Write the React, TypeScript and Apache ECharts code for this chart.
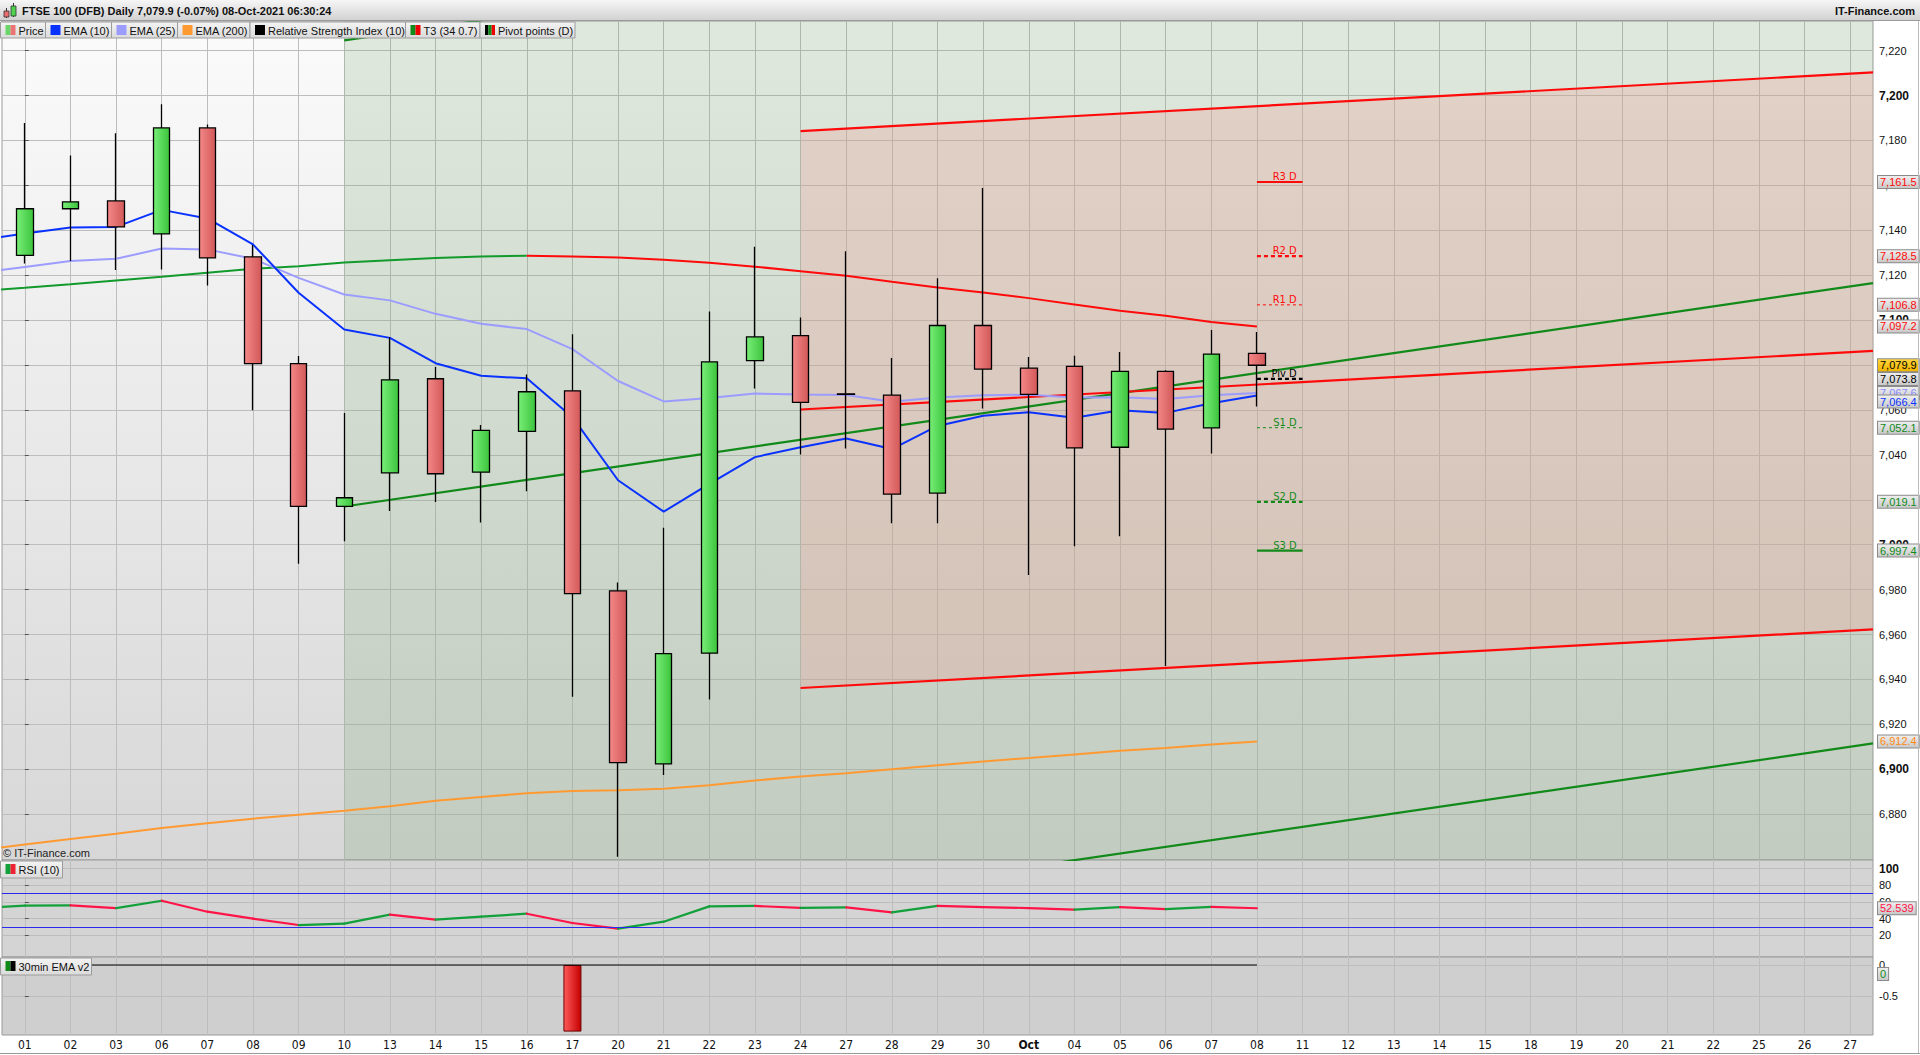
import React, { useEffect, useRef } from 'react';
import * as echarts from 'echarts';

const FONT = '"Liberation Sans", Arial, Helvetica, sans-serif';
const NARROW = '"Liberation Sans Narrow", "DejaVu Sans Condensed", "Liberation Sans", Arial, sans-serif';

// ---------------- data ----------------
const title = 'FTSE 100 (DFB) Daily 7,079.9 (-0.07%) 08-Oct-2021 06:30:24';
const site = 'IT-Finance.com';

const categories = ['01', '02', '03', '06', '07', '08', '09', '10', '13', '14', '15', '16', '17', '20', '21', '22', '23', '24', '27', '28', '29', '30', 'Oct', '04', '05', '06', '07', '08', '11', '12', '13', '14', '15', '18', '19', '20', '21', '22', '25', '26', '27'];

const candleOpen = [7128.8, 7149.6, 7153.1, 7138.4, 7185.6, 7128.2, 7080.6, 7017.1, 7032.0, 7073.9, 7032.3, 7050.5, 7068.5, 6979.4, 6902.4, 6951.7, 7082.0, 7093.1, 7067.2, 7066.6, 7023.0, 7097.6, 7078.6, 7079.4, 7043.4, 7077.2, 7052.0, 7085.2];
const candleClose = [7149.6, 7152.7, 7141.5, 7185.6, 7127.7, 7080.6, 7017.1, 7020.9, 7073.4, 7031.6, 7050.9, 7068.1, 6978.2, 6903.0, 6951.5, 7081.4, 7092.5, 7063.4, 7066.9, 7022.5, 7097.6, 7078.2, 7066.9, 7043.1, 7077.2, 7051.5, 7084.9, 7079.9];
const candleLow = [7125.2, 7126.3, 7122.3, 7122.6, 7115.4, 7059.9, 6991.5, 7001.5, 7015.0, 7019.0, 7009.9, 7023.8, 6932.3, 6861.0, 6897.4, 6931.1, 7069.5, 7040.2, 7042.8, 7009.6, 7009.6, 7060.7, 6986.5, 6999.3, 7003.8, 6946.0, 7040.6, 7061.5];
const candleHigh = [7187.8, 7173.3, 7183.2, 7196.1, 7187.1, 7133.4, 7084.0, 7058.6, 7092.4, 7079.1, 7053.3, 7075.8, 7093.7, 6983.2, 7007.5, 7103.8, 7132.7, 7101.2, 7130.7, 7083.1, 7118.7, 7158.8, 7083.6, 7084.1, 7085.8, 7077.7, 7095.6, 7094.7];

// indicator values; first entry = session before 01 (off the left edge)
const ema10 = [7135.5, 7138.6, 7141.2, 7141.5, 7149.1, 7145.3, 7133.7, 7112.2, 7095.8, 7092.1, 7080.8, 7075.2, 7074.1, 7056.8, 7028.7, 7014.7, 7027.1, 7039.0, 7043.4, 7047.3, 7042.6, 7052.9, 7057.4, 7059.0, 7056.5, 7059.9, 7058.7, 7063.0, 7066.4];
const ema25 = [7121.0, 7123.7, 7126.3, 7127.3, 7131.9, 7131.5, 7127.3, 7118.8, 7111.4, 7108.8, 7102.8, 7098.4, 7096.0, 7087.1, 7072.9, 7063.8, 7065.3, 7067.3, 7066.9, 7066.7, 7063.7, 7065.5, 7066.5, 7066.8, 7065.5, 7065.7, 7064.9, 7066.5, 7067.6];
const ema200 = [6864.0, 6866.5, 6869.0, 6871.3, 6873.8, 6876.0, 6878.0, 6879.8, 6881.5, 6883.5, 6886.0, 6887.7, 6889.3, 6890.3, 6890.7, 6891.3, 6892.9, 6895.0, 6896.8, 6898.2, 6900.0, 6901.8, 6903.5, 6905.0, 6906.6, 6908.2, 6909.5, 6911.0, 6912.4];
const t3 = [7112.9, 7114.4, 7116.0, 7117.7, 7119.3, 7121.1, 7122.9, 7124.0, 7125.7, 7126.7, 7127.7, 7128.3, 7128.7, 7128.3, 7127.9, 7126.9, 7125.5, 7123.8, 7121.8, 7119.8, 7117.1, 7114.5, 7112.3, 7109.8, 7107.0, 7104.2, 7102.0, 7099.2, 7097.2];
const t3TurnIndex = 12; // position in t3[] where colour switches (16 Sep)
const rsi = [52.8, 55.6, 56.0, 52.8, 61.6, 48.4, 40.0, 32.4, 34.0, 44.8, 38.8, 42.4, 46.0, 34.8, 28.0, 36.4, 54.8, 55.3, 53.0, 53.7, 47.5, 55.5, 54.0, 52.8, 50.8, 54.0, 51.5, 54.3, 52.539];
const rsiBands = [30, 70];

const emaV2Histogram = [0, 0, 0, 0, 0, 0, 0, 0, 0, 0, 0, 0, -1.08, 0, 0, 0, 0, 0, 0, 0, 0, 0, 0, 0, 0, 0, 0, 0];
const emaV2Signal = [0, 0, 0, 0, 0, 0, 0, 0, 0, 0, 0, 0, 0, 0, 0, 0, 0, 0, 0, 0, 0, 0, 0, 0, 0, 0, 0, 0];

// trend channels: [x start, x end] in session index, values at those x
const greenZoneX = [7, 40.5];
const greenChannelX = [7, 40.5];
const greenUpper = [7224.6, 7324.1];
const greenMid = [7017.0, 7116.5];
const greenLower = [6812.0, 6911.5];
const redChannelX = [17, 40.5];
const redUpper = [7184.2, 7210.3];
const redMid = [7060.2, 7086.3];
const redLower = [6936.2, 6962.3];

const pivotX = [27, 28];
const pivotNames = ['R3 D', 'R2 D', 'R1 D', 'Piv D', 'S1 D', 'S2 D', 'S3 D'];
const pivotValues = [7161.5, 7128.5, 7106.8, 7073.8, 7052.1, 7019.1, 6997.4];

const yTicksMain = [6880, 6900, 6920, 6940, 6960, 6980, 7000, 7020, 7040, 7060, 7080, 7100, 7120, 7140, 7160, 7180, 7200, 7220];
const yTicksRsi = [20, 40, 60, 80, 100];
const yTicksEma = [-0.5, 0];

const legendLabels = ['Price', 'EMA (10)', 'EMA (25)', 'EMA (200)', 'Relative Strength Index (10)', 'T3 (34 0.7)', 'Pivot points (D)'];

// ---------------- styles / layout ----------------
const RED = '#ff0a0a';
const GREEN = '#118a1a';
const T3_GREEN = '#139a2c';
const BLUE = '#0a32ff';
const LILAC = '#9c9cff';
const ORANGE = '#ff9a33';
const RSI_UP = '#12a03a';
const RSI_DOWN = '#ff1448';

const legendBoxes = [
  { x: 0.5, w: 45, sw: ['#6ad66a', '#ea7474'] },
  { x: 45.5, w: 66, sw: [BLUE] },
  { x: 111.5, w: 66, sw: [LILAC] },
  { x: 177.5, w: 72.5, sw: [ORANGE] },
  { x: 250, w: 155.5, sw: ['#000000'] },
  { x: 405.5, w: 74.5, sw: [GREEN, '#ee0000'] },
  { x: 480, w: 95, sw: ['#000000', GREEN, '#ee0000'] },
];

const grad = (c1: string, c2: string, horizontal = false) => ({
  type: 'linear', x: 0, y: 0, x2: horizontal ? 1 : 0, y2: horizontal ? 0 : 1,
  colorStops: [{ offset: 0, color: c1 }, { offset: 1, color: c2 }],
});

const fmt = (v: number, d: number) =>
  v.toLocaleString('en-US', { minimumFractionDigits: d, maximumFractionDigits: d });

const tag = (value: number, text: string, color: string, bg?: any, offsetY = 0) => ({
  yAxis: value,
  lineStyle: { color: 'rgba(0,0,0,0)', width: 0 },
  label: {
    show: true, position: 'end', distance: 5, formatter: text, color,
    fontSize: 11, fontFamily: FONT, lineHeight: 11, opacity: 1,
    backgroundColor: bg || grad('#eeeeee', '#c9c9c9'),
    borderColor: '#8a8a8a', borderWidth: 1, padding: [1, 2, 0, 2],
    offset: [0, offsetY],
  },
});

const seq = (arr: number[], startX: number) => arr.map((v, i) => [startX + i, v]);
const pair = (xs: number[], ys: number[]) => [[xs[0], ys[0]], [xs[1], ys[1]]];
const last = (arr: number[]) => arr[arr.length - 1];

function buildOption() {
  const line = (data: any[], color: string, width: number, extra: any = {}) => ({
    type: 'line', xAxisIndex: 1, yAxisIndex: 0, data, symbol: 'none', showSymbol: false,
    lineStyle: { color, width }, itemStyle: { color }, z: 3, silent: true, clip: true,
    animation: false, ...extra,
  });

  // invisible, unclipped host series that carry the value tags on the right axis
  const tagHost = (xAxisIndex: number, yAxisIndex: number, items: any[]) => ({
    type: 'line', xAxisIndex, yAxisIndex, data: [], symbol: 'none', showSymbol: false,
    silent: true, clip: false, z: 8, animation: false,
    markLine: { symbol: ['none', 'none'], silent: true, animation: false, z: 8, data: items },
  });

  const candleData = candleOpen.map((o, i) => [o, candleClose[i], candleLow[i], candleHigh[i]]);
  const rsiSegments = rsi.slice(1).map((v, i) => [i - 1, rsi[i], i, v]);

  const pivotStyles = [
    { color: RED, width: 2.2, type: 'solid' },
    { color: RED, width: 2.2, type: [4, 3] },
    { color: RED, width: 1, type: [3, 3] },
    { color: '#000000', width: 2.2, type: [4, 3] },
    { color: GREEN, width: 1, type: [3, 3] },
    { color: GREEN, width: 2.2, type: [4, 3] },
    { color: GREEN, width: 2.2, type: 'solid' },
  ];

  const pivotSeries = pivotNames.map((name, k) => line(
    [[pivotX[0], pivotValues[k]], [pivotX[1], pivotValues[k]]],
    pivotStyles[k].color, pivotStyles[k].width,
    {
      z: 4,
      lineStyle: { color: pivotStyles[k].color, width: pivotStyles[k].width, type: pivotStyles[k].type },
      endLabel: {
        show: true, formatter: name, color: pivotStyles[k].color, fontSize: 11, fontFamily: NARROW,
        align: 'right', verticalAlign: 'bottom', distance: -6,
      },
    },
  ));
  const pivotTags = pivotNames.map((_, k) => tag(pivotValues[k], fmt(pivotValues[k], 1), pivotStyles[k].color));

  const mainTags = [
    pivotTags[0], pivotTags[1], pivotTags[2],
    tag(last(t3), fmt(last(t3), 1), RED),
    pivotTags[4], pivotTags[5], pivotTags[6],
    tag(last(ema200), fmt(last(ema200), 1), '#ff8a10'),
    pivotTags[3],
    tag(last(candleClose), fmt(last(candleClose), 1), '#000', grad('#ffd53d', '#f0b400')),
    tag(last(ema25), fmt(last(ema25), 1), '#8c8cff'),
    tag(last(ema10), fmt(last(ema10), 1), BLUE, undefined, 6),
  ];

  const valX = (gridIndex: number) => ({
    type: 'value', gridIndex, min: -0.5, max: 40.5, show: true,
    axisLine: { show: false }, axisLabel: { show: false },
    axisTick: { show: false, customValues: categories.map((_, i) => i) },
    splitLine: { show: true, lineStyle: { color: '#bdbdbd', width: 1 } },
  });

  const yCommon = {
    type: 'value', position: 'right', axisLine: { show: false },
    splitLine: { show: true, lineStyle: { color: '#bdbdbd', width: 1 } },
  };

  const graphics: any[] = [
    { type: 'rect', z: 100, shape: { x: 0, y: 0, width: 1920, height: 20 }, style: { fill: grad('#f6f6f6', '#d2d2d2') } },
    { type: 'line', z: 100, shape: { x1: 0, y1: 20.5, x2: 1920, y2: 20.5 }, style: { stroke: '#9a9a9a', lineWidth: 1 } },
    { type: 'line', z: 101, shape: { x1: 6.5, y1: 8, x2: 6.5, y2: 18 }, style: { stroke: '#333', lineWidth: 1 } },
    { type: 'rect', z: 102, shape: { x: 4, y: 11, width: 5, height: 6 }, style: { fill: '#ea6c6c', stroke: '#333', lineWidth: 0.8 } },
    { type: 'line', z: 101, shape: { x1: 13.5, y1: 3, x2: 13.5, y2: 17 }, style: { stroke: '#333', lineWidth: 1 } },
    { type: 'rect', z: 102, shape: { x: 11, y: 6, width: 5, height: 10 }, style: { fill: '#4fd24f', stroke: '#333', lineWidth: 0.8 } },
    { type: 'text', z: 101, style: { text: title, x: 22, y: 11, font: `bold 11px ${FONT}`, fill: '#111', textVerticalAlign: 'middle' } },
    { type: 'text', z: 101, style: { text: site, x: 1915, y: 11, font: `bold 11px ${FONT}`, fill: '#111', textAlign: 'right', textVerticalAlign: 'middle' } },
    { type: 'text', z: 101, style: { text: '\u00a9 IT-Finance.com', x: 3, y: 853, font: `11px ${FONT}`, fill: '#222', textVerticalAlign: 'middle' } },
    { type: 'line', z: 100, shape: { x1: 0, y1: 1053.5, x2: 1920, y2: 1053.5 }, style: { stroke: '#9a9a9a', lineWidth: 1 } },
    { type: 'line', z: 100, shape: { x1: 1918.5, y1: 21, x2: 1918.5, y2: 1053 }, style: { stroke: '#bbbbbb', lineWidth: 1 } },
  ];

  const box = (x: number, y: number, w: number, h: number, text: string, sw: string[]) => {
    graphics.push({ type: 'rect', z: 110, shape: { x, y, width: w, height: h }, style: { fill: grad('#f4f4f4', '#dadada'), stroke: '#9c9c9c', lineWidth: 1 } });
    const swW = 10 / sw.length;
    sw.forEach((c, i) => graphics.push({ type: 'rect', z: 111, shape: { x: x + 5 + i * swW, y: y + 3, width: swW, height: 10 }, style: { fill: c } }));
    graphics.push({ type: 'text', z: 111, style: { text, x: x + 18, y: y + h / 2 + 0.5, font: `11px ${FONT}`, fill: '#111', textVerticalAlign: 'middle' } });
  };
  legendLabels.forEach((t, i) => box(legendBoxes[i].x, 22, legendBoxes[i].w, 16, t, legendBoxes[i].sw));
  box(0.5, 861, 62, 17, 'RSI (10)', ['#12a03a', '#ee2233']);
  box(0.5, 958, 91, 17, '30min EMA v2', [GREEN, '#000000']);

  return {
    animation: false,
    textStyle: { fontFamily: FONT },
    graphic: graphics,
    grid: [
      { left: 2, top: 21, width: 1871, height: 839, show: true, backgroundColor: grad('#fbfbfb', '#d7d7d7'), borderColor: '#9a9a9a', borderWidth: 1 },
      { left: 2, top: 860, width: 1871, height: 97, show: true, backgroundColor: '#d4d4d4', borderColor: '#9a9a9a', borderWidth: 1 },
      { left: 2, top: 957, width: 1871, height: 78, show: true, backgroundColor: '#cfcfcf', borderColor: '#9a9a9a', borderWidth: 1 },
    ],
    xAxis: [
      { type: 'category', gridIndex: 0, data: categories, boundaryGap: true, show: false },
      valX(0),
      valX(1),
      {
        type: 'category', gridIndex: 2, data: categories, boundaryGap: true,
        axisLine: { show: false }, axisTick: { show: false }, splitLine: { show: false },
        axisLabel: {
          interval: 0, margin: 4, fontSize: 12, color: '#111', fontFamily: NARROW,
          formatter: (v: string) => (v === 'Oct' ? '{b|Oct}' : v),
          rich: { b: { fontWeight: 'bold', fontSize: 12, fontFamily: NARROW, color: '#111' } },
        },
      },
      valX(2),
    ],
    yAxis: [
      {
        ...yCommon, gridIndex: 0, min: 6859.6, max: 7233.2,
        axisTick: { show: true, length: 4, customValues: yTicksMain, lineStyle: { color: '#555' } },
        axisLabel: {
          customValues: yTicksMain, margin: 6, fontSize: 11, color: '#111', fontFamily: FONT,
          formatter: (v: number) => (v % 100 === 0 ? `{b|${fmt(v, 0)}}` : fmt(v, 0)),
          rich: { b: { fontWeight: 'bold', fontSize: 12, color: '#111', fontFamily: FONT } },
        },
      },
      {
        ...yCommon, gridIndex: 1, min: -6, max: 110.5,
        axisTick: { show: true, length: 4, customValues: yTicksRsi, lineStyle: { color: '#555' } },
        axisLabel: {
          customValues: yTicksRsi, margin: 6, fontSize: 11, color: '#111', fontFamily: FONT,
          formatter: (v: number) => (v === 100 ? `{b|${v}}` : `${v}`),
          rich: { b: { fontWeight: 'bold', fontSize: 12, color: '#111', fontFamily: FONT } },
        },
      },
      {
        ...yCommon, gridIndex: 2, min: -1.135, max: 0.13,
        axisTick: { show: true, length: 4, customValues: yTicksEma, lineStyle: { color: '#555' } },
        axisLabel: {
          customValues: yTicksEma, margin: 6, fontSize: 11, color: '#111', fontFamily: FONT,
          formatter: (v: number) => `${v}`,
        },
      },
    ],
    series: [
      // channel shading
      {
        type: 'custom', xAxisIndex: 1, yAxisIndex: 0, z: 2, silent: true, clip: true,
        data: [[redChannelX[0], redUpper[0], redLower[0], redChannelX[1], redUpper[1], redLower[1]]],
        renderItem: (_p: any, api: any) => {
          const a = api.coord([api.value(0), api.value(1)]);
          const b = api.coord([api.value(3), api.value(4)]);
          const c = api.coord([api.value(3), api.value(5)]);
          const d = api.coord([api.value(0), api.value(2)]);
          return { type: 'polygon', shape: { points: [a, b, c, d] }, style: { fill: 'rgba(236,166,154,0.32)' } };
        },
      },
      line(pair(greenChannelX, greenMid), GREEN, 2.2, {
        markArea: {
          silent: true, z: 1,
          itemStyle: { color: 'rgba(110,160,100,0.2)' },
          data: [[{ xAxis: greenZoneX[0] }, { xAxis: greenZoneX[1] }]],
        },
      }),
      line(pair(greenChannelX, greenUpper), GREEN, 2.2),
      line(pair(greenChannelX, greenLower), GREEN, 2.2),
      line(pair(redChannelX, redUpper), RED, 2.2),
      line(pair(redChannelX, redMid), RED, 2.2),
      line(pair(redChannelX, redLower), RED, 2.2),
      line(seq(ema200, -1), ORANGE, 2),
      line(seq(t3.slice(0, t3TurnIndex + 1), -1), T3_GREEN, 2),
      line(seq(t3.slice(t3TurnIndex), t3TurnIndex - 1), RED, 2),
      line(seq(ema25, -1), LILAC, 2),
      line(seq(ema10, -1), BLUE, 2),
      {
        type: 'candlestick', xAxisIndex: 0, yAxisIndex: 0, z: 5, silent: true, barWidth: 17,
        data: candleData,
        itemStyle: {
          color: grad('#78ee78', '#3cc43c', true),
          color0: grad('#f48888', '#d25858', true),
          borderColor: '#000000', borderColor0: '#000000', borderWidth: 1.3,
        },
      },
      ...pivotSeries,
      tagHost(1, 0, mainTags),
      // RSI
      {
        type: 'custom', xAxisIndex: 2, yAxisIndex: 1, z: 3, silent: true, clip: true,
        encode: { x: [0, 2], y: [1, 3] },
        data: rsiSegments,
        renderItem: (_p: any, api: any) => {
          const a = api.coord([api.value(0), api.value(1)]);
          const b = api.coord([api.value(2), api.value(3)]);
          const up = api.value(3) >= api.value(1);
          return { type: 'line', shape: { x1: a[0], y1: a[1], x2: b[0], y2: b[1] }, style: { stroke: up ? RSI_UP : RSI_DOWN, lineWidth: 2.2, lineCap: 'round' } };
        },
        markLine: {
          symbol: ['none', 'none'], silent: true, animation: false,
          data: rsiBands.map((b) => ({ yAxis: b, lineStyle: { color: '#2a2aee', width: 1, type: 'solid' }, label: { show: false } })),
        },
      },
      tagHost(2, 1, [tag(last(rsi), fmt(last(rsi), 3), RSI_DOWN)]),
      // 30min EMA v2
      {
        type: 'bar', xAxisIndex: 3, yAxisIndex: 2, z: 3, silent: true, barWidth: 18,
        data: emaV2Histogram.map((v) => (v === 0 ? { value: v, itemStyle: { borderWidth: 0, opacity: 0 } } : v)),
        itemStyle: { color: grad('#ff5a5a', '#c40000', true), borderColor: '#6a0000', borderWidth: 1 },
      },
      {
        type: 'line', xAxisIndex: 4, yAxisIndex: 2, z: 4, silent: true, symbol: 'none', showSymbol: false,
        data: seq(emaV2Signal, 0), lineStyle: { color: '#000', width: 1.2 },
      },
      tagHost(4, 2, [tag(last(emaV2Signal), '0', GREEN, undefined, 9)]),
    ],
  };
}

export default function App() {
  const ref = useRef<HTMLDivElement>(null);
  useEffect(() => {
    if (!ref.current) return;
    const chart = echarts.init(ref.current, null, { renderer: 'svg' });
    chart.setOption(buildOption() as any);
    return () => chart.dispose();
  }, []);
  return (
    <div
      ref={ref}
      style={{ position: 'fixed', left: 0, top: 0, width: 1920, height: 1055, background: '#ffffff' }}
    />
  );
}
